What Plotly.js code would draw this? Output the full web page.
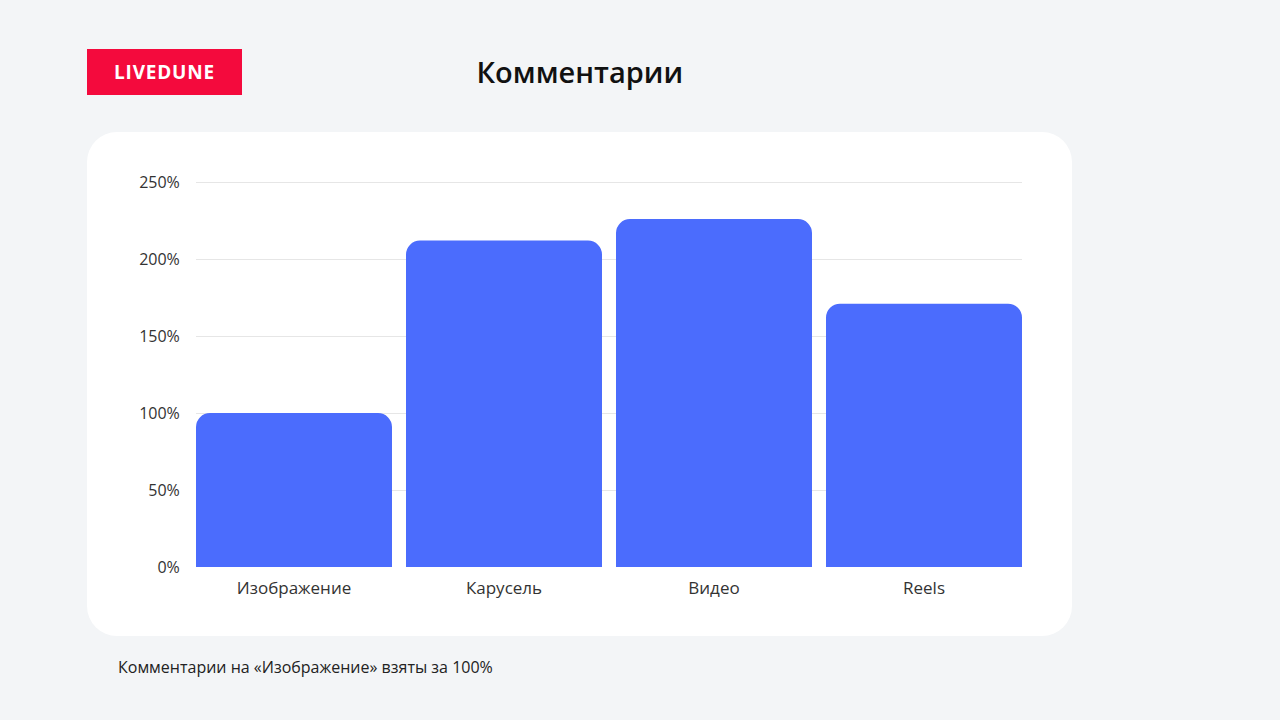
<!DOCTYPE html>
<html>
<head>
<meta charset="utf-8">
<script src="https://cdn.plot.ly/plotly-3.0.1.min.js"></script>
<style>
    html, body { margin: 0; padding: 0; }
    body { width: 1280px; height: 720px; background: #f3f5f7; position: relative; overflow: hidden; font-family: "Open Sans", sans-serif; }
    #card { position: absolute; left: 87px; top: 132px; width: 985px; height: 504px; background: #ffffff; border-radius: 30px; }
    #logo { position: absolute; left: 87px; top: 49px; width: 155px; height: 46px; background: #f40a3d;
            color: #ffffff; font-weight: 700; font-size: 19px; letter-spacing: 0.8px; line-height: 46px; text-align: center; }
    #chart { position: absolute; left: 0; top: 0; width: 1280px; height: 720px; }
</style>
</head>
<body>
<div id="card"></div>
<div id="logo">LIVEDUNE</div>
<div id="chart"></div>
<script>
// Данные: комментарии относительно «Изображение» (=100%)
const categories = ['Изображение', 'Карусель', 'Видео', 'Reels'];
const values = [100, 212, 226, 171];
const yTicks = [0, 50, 100, 150, 200, 250];
const yTickText = yTicks.map(v => v + '%');

const barColor = '#4b6cfd';
const barGap = 14 / 210;

let trace = {
    x: categories,
    y: values,
    type: 'bar',
    marker: {
        color: barColor,
        cornerradius: 14
    },
    hoverinfo: 'skip'
};

let layout = {
    width: 1280,
    height: 720,
    margin: { l: 196, r: 258, t: 179, b: 153, pad: 0 },
    paper_bgcolor: 'rgba(0,0,0,0)',
    plot_bgcolor: 'rgba(0,0,0,0)',
    showlegend: false,
    bargap: barGap,
    font: { family: '"Open Sans", sans-serif', color: '#333333' },
    title: {
        text: 'Комментарии',
        font: { family: '"Open Sans", sans-serif', size: 29, weight: 600, color: '#111111' },
        x: 0.453,
        xref: 'container',
        xanchor: 'center',
        y: 1 - 73 / 720,
        yref: 'container',
        yanchor: 'middle'
    },
    xaxis: {
        type: 'category',
        range: [-0.5 + barGap / 2, categories.length - 0.5 - barGap / 2],
        showgrid: false,
        zeroline: false,
        showline: false,
        ticks: 'outside',
        ticklen: 6,
        tickcolor: 'rgba(0,0,0,0)',
        tickfont: { size: 17, color: '#333333' },
        fixedrange: true
    },
    yaxis: {
        range: [0, 252],
        tickvals: yTicks,
        ticktext: yTickText,
        showgrid: true,
        gridcolor: '#e6e6e6',
        gridwidth: 1,
        zeroline: false,
        showline: false,
        ticks: 'outside',
        ticklen: 12,
        tickcolor: 'rgba(0,0,0,0)',
        tickfont: { size: 16, color: '#333333' },
        fixedrange: true
    },
    annotations: [{
        text: 'Комментарии на «Изображение» взяты за 100%',
        xref: 'paper',
        yref: 'paper',
        x: (116 - 196) / 826,
        y: (567 - 667) / 388,
        xanchor: 'left',
        yanchor: 'middle',
        showarrow: false,
        font: { size: 16, color: '#222222' }
    }]
};

Plotly.newPlot('chart', [trace], layout, { displayModeBar: false, staticPlot: true });
</script>
</body>
</html>
